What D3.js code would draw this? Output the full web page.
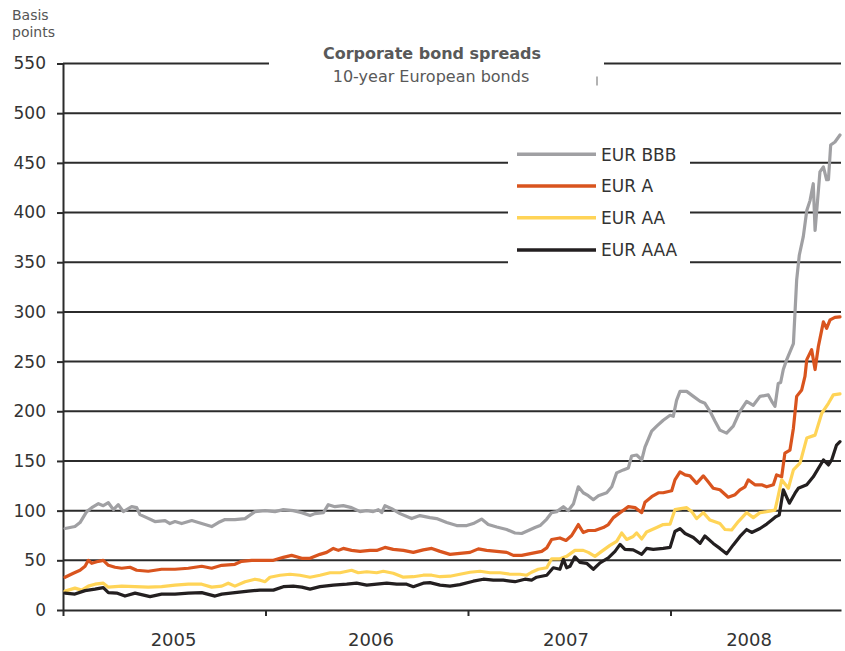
<!DOCTYPE html>
<html><head><meta charset="utf-8">
<script src="https://cdn.jsdelivr.net/npm/d3@7"></script>
<style>html,body{margin:0;padding:0;background:#fff;} svg{display:block;font-family:"DejaVu Sans",Verdana,sans-serif;}</style>
</head><body><svg id="c" width="845" height="651"></svg>
<script>
// ---- data ----
const seriesNames = ["EUR BBB", "EUR A", "EUR AA", "EUR AAA"];
const seriesColors = ["#a0a0a3", "#d9541e", "#ffd457", "#231f20"];
const yTicks = [0, 50, 100, 150, 200, 250, 300, 350, 400, 450, 500, 550];
const yearTicks = [2005, 2006, 2007, 2008];
const yearLabels = ["2005", "2006", "2007", "2008"];
const yearLabelPos = [2005.546, 2006.521, 2007.484, 2008.388];
const titleText = "Corporate bond spreads";
const subtitleText = "10-year European bonds";
const unitLines = ["Basis", "points"];

// [decimal year, basis points]
const eurBBB = [
[2005.010,82],[2005.059,84],[2005.084,88],[2005.117,99],[2005.142,103],[2005.175,107],[2005.199,105],[2005.224,108],
[2005.249,101],[2005.273,106],[2005.298,99],[2005.339,104],[2005.364,103],[2005.380,96],[2005.413,93],[2005.454,89],
[2005.504,90],[2005.528,87],[2005.553,89],[2005.586,87],[2005.636,90],[2005.685,87],[2005.734,84],[2005.767,88],
[2005.800,91],[2005.849,91],[2005.899,92],[2005.948,99],[2005.998,100],[2006.047,99],[2006.088,101],[2006.137,100],
[2006.179,98],[2006.220,95],[2006.244,97],[2006.286,98],[2006.310,106],[2006.343,104],[2006.384,105],[2006.425,103],
[2006.467,99],[2006.500,100],[2006.532,99],[2006.557,101],[2006.574,98],[2006.590,105],[2006.623,102],[2006.664,97],
[2006.722,92],[2006.763,95],[2006.812,93],[2006.845,92],[2006.895,88],[2006.944,85],[2006.994,85],[2007.026,87],
[2007.067,91.5],[2007.100,86],[2007.142,83.5],[2007.191,81],[2007.232,77.5],[2007.265,77],[2007.298,80],[2007.331,83],
[2007.356,85],[2007.389,91.5],[2007.413,98],[2007.438,99],[2007.471,104],[2007.495,100],[2007.521,107],[2007.545,124],
[2007.569,118],[2007.594,115],[2007.619,111],[2007.644,115],[2007.685,118],[2007.710,124],[2007.734,138],[2007.767,141],
[2007.792,143],[2007.808,155],[2007.833,156],[2007.858,151],[2007.874,164],[2007.907,180],[2007.932,185],[2007.964,191],
[2007.998,196],[2008.014,195],[2008.030,211],[2008.047,220],[2008.080,220],[2008.113,215],[2008.146,210],[2008.170,208],
[2008.195,200],[2008.220,190],[2008.244,181],[2008.277,178],[2008.310,185],[2008.343,200],[2008.376,210],[2008.409,206],
[2008.442,215],[2008.483,216.5],[2008.500,210],[2008.516,205],[2008.532,228],[2008.544,229],[2008.557,242],[2008.574,252],
[2008.607,268],[2008.615,300],[2008.623,332],[2008.636,357],[2008.656,376],[2008.673,402],[2008.689,412],[2008.705,429],
[2008.714,382],[2008.725,409],[2008.738,441],[2008.755,446],[2008.771,433],[2008.780,433],[2008.791,468],[2008.812,471],
[2008.837,478]
];
const eurA = [
[2005.010,33],[2005.051,37],[2005.084,40],[2005.109,44],[2005.125,50],[2005.142,47],[2005.175,49],[2005.199,50],
[2005.224,45],[2005.257,43],[2005.290,42],[2005.331,43],[2005.364,40],[2005.421,39],[2005.454,40],[2005.487,41],
[2005.553,41],[2005.619,42],[2005.685,44],[2005.734,42],[2005.784,45],[2005.849,46],[2005.882,49],[2005.932,50],
[2005.998,50],[2006.039,50],[2006.088,53],[2006.129,55],[2006.179,52],[2006.220,52],[2006.269,56],[2006.302,58],
[2006.335,62],[2006.360,60],[2006.384,62],[2006.425,60],[2006.467,59],[2006.516,60],[2006.549,60],[2006.590,63],
[2006.631,61],[2006.681,60],[2006.730,58],[2006.779,60.5],[2006.821,62],[2006.862,59],[2006.911,56],[2006.960,57],
[2007.010,58],[2007.051,61.5],[2007.092,60],[2007.142,59],[2007.191,58],[2007.224,55],[2007.265,55],[2007.314,57],
[2007.364,59],[2007.389,62.5],[2007.413,71],[2007.454,72.5],[2007.484,70],[2007.512,75],[2007.545,86],[2007.569,78],
[2007.594,80],[2007.627,80],[2007.668,83],[2007.693,86],[2007.718,93],[2007.751,98],[2007.792,104],[2007.825,103],
[2007.858,98],[2007.874,108.5],[2007.907,114],[2007.940,118],[2007.964,118],[2008.006,120],[2008.022,131],[2008.047,139],
[2008.072,136],[2008.096,135],[2008.129,127.5],[2008.162,135],[2008.186,129],[2008.211,122.5],[2008.244,121],[2008.285,113.5],
[2008.319,116],[2008.343,121],[2008.368,124],[2008.384,131],[2008.417,126],[2008.450,126],[2008.475,124],[2008.508,126],
[2008.524,136],[2008.549,134],[2008.565,158],[2008.590,161],[2008.607,183],[2008.623,215],[2008.648,221.5],[2008.664,235],
[2008.673,252],[2008.697,262],[2008.714,242],[2008.730,265],[2008.755,290],[2008.771,283.5],[2008.788,292],[2008.812,294.5],
[2008.837,295]
];
const eurAA = [
[2005.010,19],[2005.059,22],[2005.092,20],[2005.125,24],[2005.158,26],[2005.199,27],[2005.224,23],[2005.290,24],
[2005.356,23.5],[2005.421,23],[2005.487,23.5],[2005.553,25],[2005.619,26],[2005.685,26],[2005.734,23],[2005.784,24],
[2005.816,27],[2005.849,24],[2005.899,28.5],[2005.948,31],[2005.973,30],[2005.998,28.5],[2006.022,33],[2006.072,35],
[2006.121,36],[2006.170,35],[2006.220,33],[2006.269,35],[2006.319,37.5],[2006.368,37.5],[2006.425,40],[2006.458,37.5],
[2006.500,38.5],[2006.549,37.5],[2006.582,39],[2006.631,37],[2006.681,33],[2006.730,33.5],[2006.779,35],[2006.821,35],
[2006.862,33.5],[2006.911,34],[2006.960,36],[2007.010,38],[2007.059,39],[2007.109,37.5],[2007.158,37.5],[2007.207,36],
[2007.257,36],[2007.290,35],[2007.314,38],[2007.347,41],[2007.389,42.5],[2007.413,51.5],[2007.454,51.5],[2007.487,54],
[2007.528,60],[2007.569,60],[2007.594,58],[2007.627,54],[2007.660,59],[2007.701,65],[2007.734,69],[2007.759,77.5],
[2007.784,71],[2007.816,74],[2007.833,77.5],[2007.858,71.5],[2007.882,78.5],[2007.932,83],[2007.964,86],[2007.998,86.5],
[2008.022,101],[2008.080,103],[2008.105,99],[2008.129,92],[2008.162,98],[2008.195,90.5],[2008.244,87],[2008.269,81],
[2008.302,80.5],[2008.335,89],[2008.376,98],[2008.409,93],[2008.442,98],[2008.475,99],[2008.516,100.5],[2008.528,111],
[2008.549,131],[2008.582,122.5],[2008.607,141],[2008.640,148],[2008.673,173],[2008.714,176],[2008.747,198],[2008.780,208],
[2008.804,216.5],[2008.837,217.5]
];
const eurAAA = [
[2005.010,17],[2005.059,16],[2005.109,19.5],[2005.158,21],[2005.199,22.5],[2005.224,17.5],[2005.265,17],[2005.306,14],
[2005.356,17],[2005.430,13.5],[2005.487,16],[2005.553,16],[2005.619,17],[2005.685,17.5],[2005.751,14],[2005.784,16],
[2005.849,17.5],[2005.915,19],[2005.973,20],[2006.039,20],[2006.088,23.5],[2006.137,24],[2006.179,23],[2006.220,21],
[2006.269,23.5],[2006.335,25],[2006.401,26],[2006.450,27],[2006.500,25],[2006.549,26],[2006.599,27],[2006.648,26],
[2006.697,26],[2006.730,23.5],[2006.779,27],[2006.812,27.5],[2006.862,25],[2006.911,24],[2006.960,25.5],[2007.026,29],
[2007.076,31],[2007.125,30],[2007.174,30],[2007.232,28.5],[2007.281,31],[2007.314,30],[2007.339,33],[2007.389,35],
[2007.421,42.5],[2007.454,41],[2007.471,51],[2007.487,42.5],[2007.504,44],[2007.528,53.5],[2007.553,48],[2007.586,47],
[2007.619,41],[2007.652,47.5],[2007.693,52.5],[2007.726,59],[2007.751,66],[2007.775,61],[2007.816,60.5],[2007.858,56],
[2007.882,62],[2007.915,61],[2007.964,62],[2007.998,63],[2008.022,79],[2008.047,82],[2008.072,77],[2008.113,73],
[2008.146,67],[2008.170,74.5],[2008.211,67],[2008.244,62],[2008.277,56.5],[2008.310,65.5],[2008.343,74],[2008.376,81],
[2008.401,78],[2008.442,82],[2008.475,86.5],[2008.500,90.5],[2008.521,94],[2008.537,95.5],[2008.557,121],[2008.587,107.5],
[2008.615,117.5],[2008.631,122.5],[2008.673,126],[2008.705,134],[2008.755,151],[2008.780,146],[2008.796,151],[2008.820,166],
[2008.837,169.5]
];
const seriesData = [eurBBB, eurA, eurAA, eurAAA];

// ---- chart ----
const svg = d3.select("#c");
const mLeft = 63, mRight = 841, mTop = 63.5, mBottom = 610;
const x = d3.scaleLinear().domain([2005, 2008.842]).range([mLeft, mRight]);
const y = d3.scaleLinear().domain([0, 550]).range([mBottom, mTop]);
const axisColor = "#2b2b2b";

// gridlines
svg.append("g").selectAll("line").data(yTicks.filter(d => d > 0)).join("line")
  .attr("x1", mLeft).attr("x2", mRight)
  .attr("y1", d => y(d)).attr("y2", d => y(d))
  .attr("stroke", axisColor).attr("stroke-width", 2);

// y axis
const gy = svg.append("g").attr("transform", `translate(${mLeft},0)`)
  .call(d3.axisLeft(y).tickValues(yTicks).tickSize(6).tickSizeOuter(0).tickPadding(11));
gy.select(".domain").attr("stroke", axisColor).attr("stroke-width", 2);
gy.selectAll(".tick line").attr("stroke", axisColor).attr("stroke-width", 2);
gy.selectAll(".tick text").attr("font-size", 17).attr("fill", "#333")
  .attr("font-family", '"DejaVu Sans",Verdana,sans-serif');

// x axis
const gx = svg.append("g").attr("transform", `translate(0,${mBottom})`)
  .call(d3.axisBottom(x).tickValues(yearTicks).tickSize(6).tickSizeOuter(0).tickFormat(""));
gx.select(".domain").attr("stroke", axisColor).attr("stroke-width", 2);
gx.selectAll(".tick line").attr("stroke", axisColor).attr("stroke-width", 2);

svg.append("g").selectAll("text").data(yearLabels).join("text")
  .attr("x", (d, i) => x(yearLabelPos[i])).attr("y", 646)
  .attr("text-anchor", "middle").attr("font-size", 18).attr("fill", "#333")
  .text(d => d);

// unit label
svg.append("g").selectAll("text").data(unitLines).join("text")
  .attr("x", 12).attr("y", (d, i) => 20 + i * 17)
  .attr("font-size", 14).attr("fill", "#555").text(d => d);

// title box (breaks the top gridline)
svg.append("rect").attr("x", 269).attr("y", 48).attr("width", 335).attr("height", 40).attr("fill", "#fff");
svg.append("text").attr("x", 432).attr("y", 58.5).attr("text-anchor", "middle")
  .attr("font-size", 16).attr("font-weight", "bold").attr("fill", "#595959").text(titleText);
svg.append("text").attr("x", 431).attr("y", 81.5).attr("text-anchor", "middle")
  .attr("font-size", 16).attr("fill", "#595959").text(subtitleText);
svg.append("line").attr("x1", 597).attr("x2", 597).attr("y1", 76.5).attr("y2", 85.5)
  .attr("stroke", "#666").attr("stroke-width", 1);

// legend box
svg.append("rect").attr("x", 508).attr("y", 136).attr("width", 182).attr("height", 132).attr("fill", "#fff");
const legendRows = [154.3, 186, 217.7, 250];
const lg = svg.append("g").selectAll("g").data(seriesNames).join("g")
  .attr("transform", (d, i) => `translate(0,${legendRows[i]})`);
lg.append("line").attr("x1", 517).attr("x2", 596).attr("y1", 0).attr("y2", 0)
  .attr("stroke", (d, i) => seriesColors[i]).attr("stroke-width", 3.5);
lg.append("text").attr("x", 601).attr("y", 6.3).attr("font-size", 17).attr("fill", "#333").text(d => d);

// series
const line = d3.line().x(d => x(d[0])).y(d => y(d[1]));
svg.append("g").selectAll("path").data(seriesData).join("path")
  .attr("d", line).attr("fill", "none")
  .attr("stroke", (d, i) => seriesColors[i]).attr("stroke-width", 3.2)
  .attr("stroke-linejoin", "round").attr("stroke-linecap", "round");
</script>
</body></html>
